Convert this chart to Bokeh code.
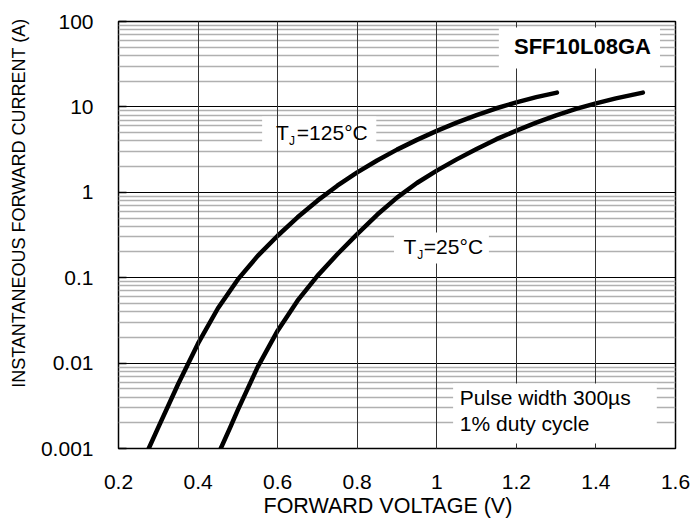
from bokeh.plotting import figure
from bokeh.models import (Range1d, FixedTicker, CustomJSTickFormatter, Label,
                          BoxAnnotation, Grid, Title)
from bokeh.embed import file_html
from bokeh.resources import INLINE

# ---- data ----
v_125 = [0.276, 0.30, 0.35, 0.40, 0.45, 0.50, 0.55, 0.60, 0.65, 0.70, 0.75,
         0.80, 0.85, 0.90, 0.95, 1.00, 1.05, 1.10, 1.15, 1.20, 1.25, 1.302]
i_125 = [0.001, 0.00177, 0.00569, 0.0170, 0.0439, 0.0955, 0.180, 0.310,
         0.509, 0.798, 1.194, 1.71, 2.36, 3.16, 4.11, 5.24, 6.53, 8.02,
         9.64, 11.3, 13.0, 14.7]

v_25 = [0.457, 0.48, 0.50, 0.55, 0.60, 0.65, 0.70, 0.75, 0.80, 0.85, 0.90,
        0.95, 1.00, 1.05, 1.10, 1.15, 1.20, 1.25, 1.30, 1.35, 1.40, 1.45, 1.518]
i_25 = [0.001, 0.00173, 0.00283, 0.00904, 0.0240, 0.0538, 0.105, 0.188,
        0.324, 0.545, 0.867, 1.285, 1.795, 2.43, 3.22, 4.19, 5.28, 6.53,
        7.96, 9.46, 11.0, 12.6, 14.7]

x_ticks = [0.2, 0.4, 0.6, 0.8, 1.0, 1.2, 1.4, 1.6]
y_ticks = [0.001, 0.01, 0.1, 1, 10, 100]
y_minor = [round(m * d, 6) for d in [0.001, 0.01, 0.1, 1, 10] for m in range(2, 10)]

x_title = "FORWARD VOLTAGE (V)"
y_title = "INSTANTANEOUS FORWARD CURRENT (A)"
part_name = "SFF10L08GA"
note_lines = ["Pulse width 300µs", "1% duty cycle"]

FONT = "Liberation Sans"

p = figure(width=693, height=528, x_range=Range1d(0.2, 1.6),
           y_range=Range1d(0.001, 100), y_axis_type="log",
           min_border_left=116, min_border_right=18, min_border_top=21,
           min_border_bottom=80, output_backend="svg", toolbar_location=None)
p.background_fill_color = "white"
p.border_fill_color = "white"
p.outline_line_color = "black"
p.outline_line_width = 1.5

fmt = CustomJSTickFormatter(code="return tick.toString();")

xa = p.xaxis[0]
xa.ticker = FixedTicker(ticks=x_ticks)
xa.formatter = fmt
xa.axis_line_color = None
xa.major_tick_in = 0
xa.major_tick_out = 0
xa.minor_tick_in = 0
xa.minor_tick_out = 0
xa.major_label_standoff = 26
xa.major_label_text_font = FONT
xa.major_label_text_font_size = "21px"
xa.major_label_text_color = "black"

ya = p.yaxis[0]
ya.ticker = FixedTicker(ticks=y_ticks, minor_ticks=y_minor)
ya.formatter = fmt
ya.axis_line_color = None
ya.major_tick_in = 8
ya.major_tick_out = 0
ya.major_tick_line_color = "black"
ya.major_tick_line_width = 1.5
ya.minor_tick_in = 0
ya.minor_tick_out = 0
ya.major_label_standoff = 25
ya.major_label_text_font = FONT
ya.major_label_text_font_size = "21px"
ya.major_label_text_color = "black"

# axis titles placed as side titles (offset positions them like the original)
p.add_layout(Title(text=x_title, align="left", offset=145,
                   vertical_align="bottom", standoff=0, text_font=FONT,
                   text_font_size="21.5px", text_font_style="normal",
                   text_color="black"), "below")
p.add_layout(Title(text=y_title, align="right", offset=-3,
                   vertical_align="middle", standoff=15, text_font=FONT,
                   text_font_size="18px", text_font_style="normal",
                   text_color="black"), "left")

p.xgrid.ticker = FixedTicker(ticks=x_ticks)
p.xgrid.grid_line_color = "#333333"
p.xgrid.grid_line_width = 1
p.ygrid.ticker = FixedTicker(ticks=y_ticks, minor_ticks=y_minor)
p.ygrid.grid_line_color = "black"
p.ygrid.grid_line_width = 1
p.ygrid.minor_grid_line_color = "#b0b0b0"
p.ygrid.minor_grid_line_width = 1.3

for vs, cs in ((v_125, i_125), (v_25, i_25)):
    p.line(vs, cs, line_width=4.5, line_color="black",
           line_cap="round", line_join="round")

def white_box(l, r, b, t):
    p.add_layout(BoxAnnotation(left=l, right=r, bottom=b, top=t,
                               fill_color="white", fill_alpha=1.0,
                               line_color=None, level="annotation"))

def txt(x, y, s, size="21px", style="normal", **kw):
    p.add_layout(Label(x=x, y=y, text=s, text_font=FONT, text_font_size=size,
                       text_font_style=style, text_color="black", **kw))

# T_J=125°C label box (vertical grid lines stay visible through it)
white_box(0.561, 0.848, 3.26, 7.72)
p.add_layout(Grid(dimension=0, ticker=FixedTicker(ticks=x_ticks),
                  grid_line_color="#333333", grid_line_width=1,
                  level="annotation"))
txt(0.5958, 3.70, "T")
txt(0.6283, 3.32, "J", size="12px")
txt(0.6483, 3.70, "=125°C")

# T_J=25°C label
white_box(0.8925, 1.131, 0.1466, 0.338)
txt(0.9165, 0.171, "T")
txt(0.9508, 0.1535, "J", size="12px")
txt(0.9675, 0.171, "=25°C")

# part number
white_box(1.156, 1.561, 28.2, 85.1)
txt(1.194, 36.6, part_name, size="22px", style="bold")

# test condition note
white_box(1.041, 1.553, 0.001144, 0.00577)
txt(1.058, 0.00292, note_lines[0])
txt(1.058, 0.00142, note_lines[1])

open("out.html", "w").write(file_html(p, INLINE))
